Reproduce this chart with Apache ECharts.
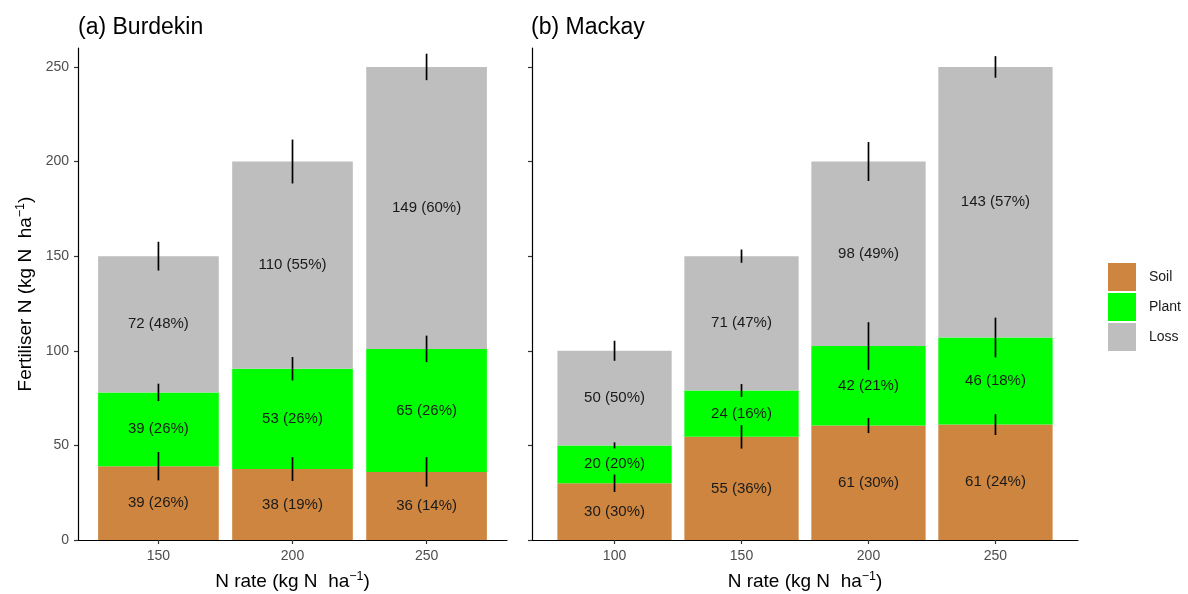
<!DOCTYPE html>
<html>
<head>
<meta charset="utf-8">
<script src="https://cdn.jsdelivr.net/npm/echarts@6/dist/echarts.min.js"></script>
<style>
  html, body { margin: 0; padding: 0; background: #fff; }
  #chart { width: 1188px; height: 594px; }
</style>
</head>
<body>
<div id="chart"></div>
<script>
// ---------- Data ----------
const burdekinRates = ['150', '200', '250'];
const mackayRates = ['100', '150', '200', '250'];
const yTicks = [0, 50, 100, 150, 200, 250];

const burdekinSoil = [39, 37.5, 36];
const burdekinPlant = [39, 53, 65];
const burdekinLoss = [72, 109.5, 149];
const burdekinSoilLabels = ['39 (26%)', '38 (19%)', '36 (14%)'];
const burdekinPlantLabels = ['39 (26%)', '53 (26%)', '65 (26%)'];
const burdekinLossLabels = ['72 (48%)', '110 (55%)', '149 (60%)'];
const burdekinSoilErr = [7.5, 6.3, 7.8];
const burdekinPlantErr = [4.6, 6.2, 7];
const burdekinLossErr = [7.6, 11.6, 7];

const mackaySoil = [30, 54.5, 60.5, 61];
const mackayPlant = [20, 24.5, 42, 46];
const mackayLoss = [50, 71, 97.5, 143];
const mackaySoilLabels = ['30 (30%)', '55 (36%)', '61 (30%)', '61 (24%)'];
const mackayPlantLabels = ['20 (20%)', '24 (16%)', '42 (21%)', '46 (18%)'];
const mackayLossLabels = ['50 (50%)', '71 (47%)', '98 (49%)', '143 (57%)'];
const mackaySoilErr = [4.6, 6.2, 4, 5.5];
const mackayPlantErr = [1.6, 3.4, 12.6, 10.5];
const mackayLossErr = [5.3, 3.5, 10.3, 5.7];

// ---------- Style ----------
const FONT = "'Liberation Sans', Arial, sans-serif";
const COLORS = { Soil: '#CD853F', Plant: '#00FF00', Loss: '#BEBEBE' };
const W = 1188, H = 594;
const gridL = { left: 78, right: W - 507, top: 48, bottom: 54, outerBoundsMode: 'none', containLabel: false };
const gridR = { left: 532, right: W - 1078, top: 48, bottom: 54, outerBoundsMode: 'none', containLabel: false };
const padL = 0.6, padR = 0.65;
const bwL = (W - gridL.left - gridL.right) / (burdekinRates.length - 1 + 2 * padL) * 0.9;
const bwR = (W - gridR.left - gridR.right) / (mackayRates.length - 1 + 2 * padR) * 0.9;

// value first, position second (so the value dimension is the stacked one)
function pts(vals) { return vals.map((v, i) => [v, i + 1]); }

function barSeries(name, vals, labels, idx, stack, bw) {
  return {
    name: name, type: 'bar', stack: stack,
    xAxisIndex: idx, yAxisIndex: idx,
    barWidth: bw,
    data: pts(vals),
    encode: { x: 1, y: 0 },
    itemStyle: { color: COLORS[name] },
    label: {
      show: true, position: 'inside',
      formatter: p => labels[p.dataIndex],
      color: '#1a1a1a', fontSize: 15, fontFamily: FONT,
      textBorderWidth: 0
    },
    emphasis: { disabled: true },
    silent: true
  };
}

function errData(soil, plant, loss, es, ep, el) {
  const out = [];
  soil.forEach((s, i) => {
    const t1 = s, t2 = s + plant[i], t3 = s + plant[i] + loss[i];
    out.push([i + 1, t1 - es[i], t1 + es[i]]);
    out.push([i + 1, t2 - ep[i], t2 + ep[i]]);
    out.push([i + 1, t3 - el[i], t3 + el[i]]);
  });
  return out;
}

function renderErr(params, api) {
  const x = api.value(0);
  const p1 = api.coord([x, api.value(1)]);
  const p2 = api.coord([x, api.value(2)]);
  return {
    type: 'line',
    shape: { x1: p1[0], y1: p1[1], x2: p2[0], y2: p2[1] },
    style: { stroke: '#000', lineWidth: 1.7 }
  };
}

function errSeries(data, idx) {
  return {
    type: 'custom', xAxisIndex: idx, yAxisIndex: idx,
    renderItem: renderErr, data: data, z: 10, silent: true,
    encode: { x: 0, y: [1, 2] }
  };
}

const axisNameRich = {
  m: { fontSize: 19, color: '#000', fontFamily: FONT, lineHeight: 24 },
  s: { fontSize: 12.5, color: '#000', fontFamily: FONT, verticalAlign: 'top', lineHeight: 12 }
};
const xName = '{m|N rate (kg N  ha}{s|−1}{m|)}';
const yName = '{m|Fertiliser N (kg N  ha}{s|−1}{m|)}';

function xAxis(idx, cats, pad) {
  const ticks = cats.map((c, i) => i + 1);
  return {
    type: 'value', gridIndex: idx,
    min: 1 - pad, max: cats.length + pad,
    splitLine: { show: false },
    axisLine: { show: true, lineStyle: { color: '#000', width: 1.2 } },
    axisTick: { show: true, length: 4, customValues: ticks, lineStyle: { color: '#333', width: 1.2 } },
    axisLabel: {
      customValues: ticks, margin: 9,
      formatter: v => cats[Math.round(v) - 1],
      color: '#4d4d4d', fontSize: 14, fontFamily: FONT
    },
    name: xName, nameLocation: 'middle', nameGap: 30,
    nameTextStyle: { rich: axisNameRich }
  };
}

function yAxis(idx, showLabels) {
  return {
    type: 'value', gridIndex: idx, min: 0, max: 260,
    splitLine: { show: false },
    axisLine: { show: true, lineStyle: { color: '#000', width: 1.2 } },
    axisTick: { show: true, length: 4, customValues: yTicks, lineStyle: { color: '#333', width: 1.2 } },
    axisLabel: {
      show: showLabels, customValues: yTicks, margin: 9,
      color: '#4d4d4d', fontSize: 14, fontFamily: FONT
    },
    name: showLabels ? yName : '',
    nameLocation: 'middle', nameGap: 40, nameRotate: 90,
    nameTextStyle: { rich: axisNameRich }
  };
}

const chart = echarts.init(document.getElementById('chart'), null, { renderer: 'canvas' });
chart.setOption({
  animation: false,
  backgroundColor: '#fff',
  textStyle: { fontFamily: FONT },
  title: [
    { text: '(a) Burdekin', left: 73, top: 11, textStyle: { fontSize: 23, fontWeight: 'normal', color: '#000', fontFamily: FONT } },
    { text: '(b) Mackay', left: 526, top: 11, textStyle: { fontSize: 23, fontWeight: 'normal', color: '#000', fontFamily: FONT } }
  ],
  legend: {
    data: ['Soil', 'Plant', 'Loss'],
    orient: 'vertical', left: 1108, top: 263, padding: 0,
    itemWidth: 28, itemHeight: 28, itemGap: 2, icon: 'rect',
    selectedMode: false,
    textStyle: { fontSize: 14, color: '#1a1a1a', fontFamily: FONT, padding: [0, 0, 0, 8] }
  },
  grid: [gridL, gridR],
  xAxis: [xAxis(0, burdekinRates, padL), xAxis(1, mackayRates, padR)],
  yAxis: [yAxis(0, true), yAxis(1, false)],
  series: [
    barSeries('Soil', burdekinSoil, burdekinSoilLabels, 0, 'L', bwL),
    barSeries('Plant', burdekinPlant, burdekinPlantLabels, 0, 'L', bwL),
    barSeries('Loss', burdekinLoss, burdekinLossLabels, 0, 'L', bwL),
    barSeries('Soil', mackaySoil, mackaySoilLabels, 1, 'R', bwR),
    barSeries('Plant', mackayPlant, mackayPlantLabels, 1, 'R', bwR),
    barSeries('Loss', mackayLoss, mackayLossLabels, 1, 'R', bwR),
    errSeries(errData(burdekinSoil, burdekinPlant, burdekinLoss, burdekinSoilErr, burdekinPlantErr, burdekinLossErr), 0),
    errSeries(errData(mackaySoil, mackayPlant, mackayLoss, mackaySoilErr, mackayPlantErr, mackayLossErr), 1)
  ]
});
</script>
</body>
</html>
